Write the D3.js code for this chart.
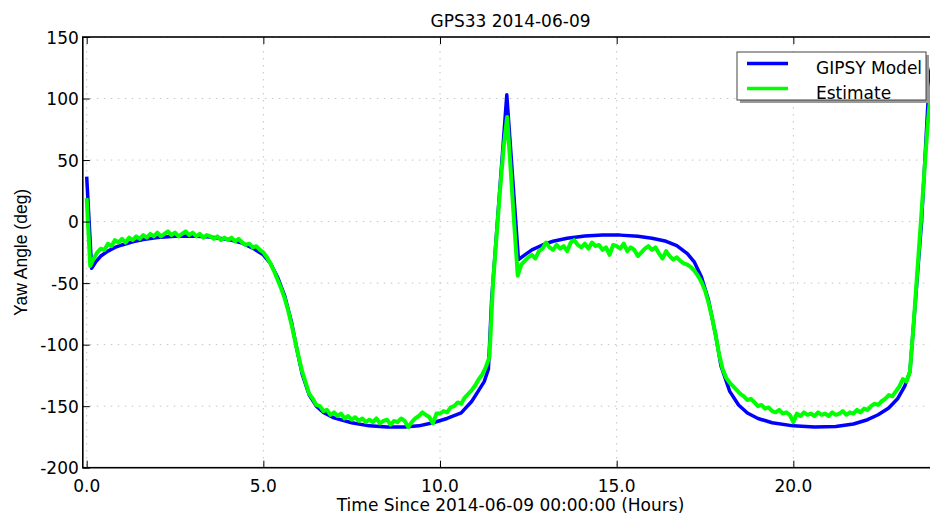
<!DOCTYPE html>
<html>
<head>
<meta charset="utf-8">
<script src="https://cdn.jsdelivr.net/npm/d3@7"></script>
<style>
  html, body { margin: 0; padding: 0; background: #fff; overflow: hidden; }
  svg { display: block; }
  .font_main { font-family: "DejaVu Sans", sans-serif; font-size: 17px; fill: #000; }
  .font_ylabel { font-family: "Liberation Sans", Arial, sans-serif; font-size: 17.5px; fill: #000; }
</style>
</head>
<body>
<div id="div_id_main"></div>
<script>

// ---- data -----------------------------------------------------------------

// GIPSY model, hours / degrees
let g_vModelHours = [0.00, 0.14, 0.25, 0.40, 0.60, 0.80, 1.00, 1.30, 1.60, 2.00,
                     2.50, 3.00, 3.50, 4.00, 4.40, 4.70, 5.00, 5.20, 5.40, 5.60,
                     5.80, 5.95, 6.10, 6.30, 6.50, 6.70, 7.00, 7.50, 8.00, 8.50,
                     9.00, 9.40, 9.80, 10.20, 10.60, 10.90, 11.10, 11.25, 11.37, 11.46,
                     11.89, 12.22, 12.40, 12.60, 12.90, 13.20, 13.60, 14.10, 14.60, 15.10,
                     15.60, 16.00, 16.40, 16.70, 17.00, 17.20, 17.40, 17.60, 17.80, 17.95,
                     18.20, 18.45, 18.70, 19.00, 19.40, 20.00, 20.60, 21.20, 21.70, 22.10,
                     22.40, 22.70, 22.95, 23.15, 23.30, 23.63, 23.85, 24.00];

let g_vModelYaw = [36.5, -38, -33, -28, -24, -21, -19, -16.5, -14.5, -13,
                   -12, -11.8, -12.5, -14.5, -17.5, -21.5, -27, -34, -45, -60,
                   -82, -104, -124, -141, -150, -155, -159.5, -163.5, -166, -167,
                   -167, -166, -163.5, -160, -155.5, -146, -137, -130, -120, -64,
                   103, -31, -27, -23, -19, -16, -13.5, -11.8, -11, -11,
                   -12, -13.5, -16, -19.5, -26, -33, -45, -64, -92, -117,
                   -138, -149, -155.5, -160, -163.5, -166, -167, -166.5, -164.5, -161,
                   -157, -151.5, -144, -134, -122, 0, 118, 135];

// Estimate, one sample every 0.1 hour starting at 0.0
let ESTIMATE_STEP = 0.1;

let g_vEstimateYaw = [
	19, -36, -30, -25, -22, -23, -18, -20, -15, -17,
	-14, -17, -13, -15, -12, -14, -11, -13, -10, -12,
	-9, -12, -10, -8, -11, -9, -12, -10, -8, -11,
	-9, -12, -10, -13, -11, -12, -14, -12, -15, -13,
	-15, -13, -16, -14, -17, -19, -18, -21, -20, -23,
	-25, -29, -34, -40, -47, -54, -62, -72, -84, -97,
	-110, -122, -131, -140, -144, -149, -150, -154, -153, -157,
	-155, -158, -156, -160, -158, -161, -159, -162, -160, -163,
	-161, -163, -160, -164, -162, -161, -165, -162, -163, -160,
	-162, -167, -163, -160, -158, -155, -157, -159, -164, -156,
	-156, -154, -155, -151, -150, -147, -148, -143, -140, -137,
	-133, -128, -124, -118, -110, -50, -12, 26, 60, 85,
	42, -2, -44, -35, -32, -29, -27, -30, -24, -22,
	-17, -21, -23, -19, -22, -20, -24, -17, -15, -19,
	-21, -18, -22, -17, -20, -19, -23, -21, -27, -19,
	-20, -22, -18, -24, -21, -23, -28, -25, -22, -20,
	-23, -21, -26, -30, -24, -28, -31, -29, -32, -34,
	-35, -37, -40, -44, -49, -56, -66, -78, -92, -108,
	-120, -127, -131, -134, -137, -140, -142, -145, -144, -147,
	-150, -149, -152, -151, -154, -155, -153, -156, -155, -157,
	-163, -156, -158, -155, -157, -156, -158, -155, -157, -156,
	-158, -155, -157, -156, -154, -157, -155, -156, -153, -155,
	-152, -153, -150, -148, -149, -146, -144, -141, -142, -138,
	-134, -128, -130, -122, -85, -44, -4, 37, 78, 110,
	125];

let g_vXTicks = [0, 5, 10, 15, 20];
let g_vYTicks = [-200, -150, -100, -50, 0, 50, 100, 150];

let g_vLegend = [
	{ name: "GIPSY Model", color: "#0000ff" },
	{ name: "Estimate",    color: "#00ff00" }
];

let TITLE   = "GPS33 2014-06-09";
let X_LABEL = "Time Since 2014-06-09 00:00:00 (Hours)";
let Y_LABEL = "Yaw Angle (deg)";

// ---- layout ---------------------------------------------------------------

let SVG_WIDTH  = 930;
let SVG_HEIGHT = 515;

let AXES_LEFT   = 82.8;
let AXES_RIGHT  = 938.2;
let AXES_TOP    = 37;
let AXES_BOTTOM = 467.7;

let TICK_LEN = 7;

function funcDraw_Main() {

	let fScale_X = d3.scaleLinear()
						.domain([-0.11, 24.1])
						.range([AXES_LEFT, AXES_RIGHT]);

	let fScale_Y = d3.scaleLinear()
						.domain([-200, 150])
						.range([AXES_BOTTOM, AXES_TOP]);

	let svgMain = d3.select("#div_id_main")
					.append("svg")
						.attr("width", SVG_WIDTH)
						.attr("height", SVG_HEIGHT);

	svgMain.append("defs")
			.append("clipPath")
				.attr("id", "clip_id_axes")
			.append("rect")
				.attr("x", AXES_LEFT)
				.attr("y", AXES_TOP)
				.attr("width", AXES_RIGHT - AXES_LEFT)
				.attr("height", AXES_BOTTOM - AXES_TOP);

	// grid ---------------------------------------------
	let gGrid = svgMain.append("g")
						.attr("stroke", "#c4c4c4")
						.attr("stroke-width", 1)
						.attr("stroke-dasharray", "1.5,5.5");

	gGrid.selectAll("line.grid_x")
		.data(g_vXTicks)
		.enter()
			.append("line")
				.attr("class", "grid_x")
				.attr("x1", d => fScale_X(d))
				.attr("x2", d => fScale_X(d))
				.attr("y1", AXES_TOP)
				.attr("y2", AXES_BOTTOM);

	gGrid.selectAll("line.grid_y")
		.data(g_vYTicks)
		.enter()
			.append("line")
				.attr("class", "grid_y")
				.attr("x1", AXES_LEFT)
				.attr("x2", AXES_RIGHT)
				.attr("y1", d => fScale_Y(d))
				.attr("y2", d => fScale_Y(d));

	// lines --------------------------------------------
	let lineModel = d3.line()
						.x((d, i) => fScale_X(g_vModelHours[i]))
						.y(d => fScale_Y(d));

	let lineEstimate = d3.line()
						.x((d, i) => fScale_X(i * ESTIMATE_STEP))
						.y(d => fScale_Y(d));

	let gLines = svgMain.append("g")
						.attr("clip-path", "url(#clip_id_axes)");

	gLines.append("path")
			.datum(g_vModelYaw)
			.attr("d", lineModel)
			.attr("fill", "none")
			.attr("stroke", g_vLegend[0].color)
			.attr("stroke-width", 3.5)
			.attr("stroke-linejoin", "round");

	gLines.append("path")
			.datum(g_vEstimateYaw)
			.attr("d", lineEstimate)
			.attr("fill", "none")
			.attr("stroke", g_vLegend[1].color)
			.attr("stroke-width", 4)
			.attr("stroke-linejoin", "round");

	// axes (ticks inward, matplotlib style) -------------
	let axisBottom = d3.axisTop(fScale_X).tickValues(g_vXTicks).tickSize(TICK_LEN).tickFormat("");
	let axisTop    = d3.axisBottom(fScale_X).tickValues(g_vXTicks).tickSize(TICK_LEN).tickFormat("");
	let axisLeft   = d3.axisRight(fScale_Y).tickValues(g_vYTicks).tickSize(TICK_LEN).tickFormat("");

	svgMain.append("g").attr("transform", "translate(0," + AXES_BOTTOM + ")").call(axisBottom);
	svgMain.append("g").attr("transform", "translate(0," + AXES_TOP + ")").call(axisTop);
	svgMain.append("g").attr("transform", "translate(" + AXES_LEFT + ",0)").call(axisLeft);

	svgMain.selectAll(".domain").remove();
	svgMain.selectAll(".tick line").attr("stroke", "#000").attr("stroke-width", 1);

	svgMain.append("rect")
			.attr("x", AXES_LEFT)
			.attr("y", AXES_TOP)
			.attr("width", AXES_RIGHT - AXES_LEFT)
			.attr("height", AXES_BOTTOM - AXES_TOP)
			.attr("fill", "none")
			.attr("stroke", "#000")
			.attr("stroke-width", 1.6);

	// tick labels ---------------------------------------
	svgMain.selectAll("text.text_class_xtick")
		.data(g_vXTicks)
		.enter()
			.append("text")
				.attr("class", "text_class_xtick font_main")
				.attr("x", d => fScale_X(d))
				.attr("y", AXES_BOTTOM + 24)
				.attr("text-anchor", "middle")
				.text(d => d.toFixed(1));

	svgMain.selectAll("text.text_class_ytick")
		.data(g_vYTicks)
		.enter()
			.append("text")
				.attr("class", "text_class_ytick font_main")
				.attr("x", AXES_LEFT - 4)
				.attr("y", d => fScale_Y(d) + 6.5)
				.attr("text-anchor", "end")
				.text(d => d);

	// titles ---------------------------------------------
	let fCenterX = (AXES_LEFT + AXES_RIGHT) / 2;
	let fCenterY = (AXES_TOP + AXES_BOTTOM) / 2;

	svgMain.append("text")
			.attr("class", "font_main")
			.attr("x", fCenterX)
			.attr("y", 27)
			.attr("text-anchor", "middle")
			.text(TITLE);

	svgMain.append("text")
			.attr("class", "font_main")
			.attr("x", fCenterX)
			.attr("y", 511)
			.attr("text-anchor", "middle")
			.text(X_LABEL);

	svgMain.append("text")
			.attr("class", "font_ylabel")
			.attr("transform", "translate(27," + fCenterY + ") rotate(-90)")
			.attr("text-anchor", "middle")
			.text(Y_LABEL);

	// legend -----------------------------------------------
	let LEG_X = 737, LEG_Y = 52, LEG_W = 189, LEG_H = 48;

	let gLegend = svgMain.append("g");

	gLegend.append("rect")
			.attr("x", LEG_X + 3)
			.attr("y", LEG_Y + 3)
			.attr("width", LEG_W)
			.attr("height", LEG_H)
			.attr("fill", "#999");

	gLegend.append("rect")
			.attr("x", LEG_X)
			.attr("y", LEG_Y)
			.attr("width", LEG_W)
			.attr("height", LEG_H)
			.attr("fill", "#fff")
			.attr("stroke", "#444")
			.attr("stroke-width", 1);

	gLegend.selectAll("line.line_class_legend")
		.data(g_vLegend)
		.enter()
			.append("line")
				.attr("class", "line_class_legend")
				.attr("x1", LEG_X + 10)
				.attr("x2", LEG_X + 51)
				.attr("y1", (d, i) => LEG_Y + 11.5 + i * 25)
				.attr("y2", (d, i) => LEG_Y + 11.5 + i * 25)
				.attr("stroke", d => d.color)
				.attr("stroke-width", 3.5);

	gLegend.selectAll("text.text_class_legend")
		.data(g_vLegend)
		.enter()
			.append("text")
				.attr("class", "text_class_legend font_main")
				.attr("x", LEG_X + 79)
				.attr("y", (d, i) => LEG_Y + 21.5 + i * 25)
				.text(d => d.name);
}

funcDraw_Main();

</script>
</body>
</html>
